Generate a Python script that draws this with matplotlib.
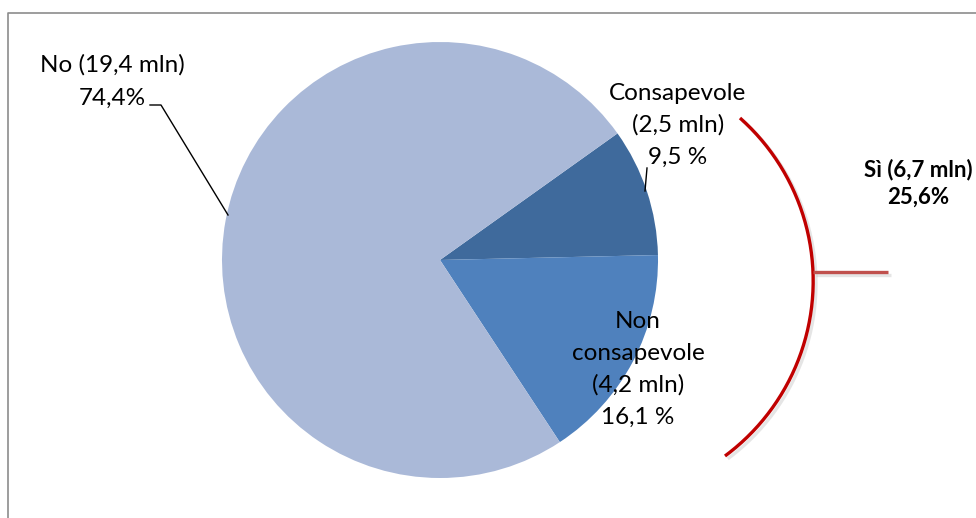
import numpy as np
import matplotlib.pyplot as plt
import matplotlib.patheffects as pe

plt.rcParams['font.family'] = ['Lato', 'DejaVu Sans']

# shares of the population (%), millions of people
categorie = ['Consapevole', 'Non consapevole', 'No']
quote = [9.5, 16.1, 74.4]
milioni = [2.5, 4.2, 19.4]
colori = ['#3F6A9C', '#4F81BD', '#AAB9D8']
si_milioni = 6.7
si_quota = 25.6

W, H = 976, 518
fig = plt.figure(figsize=(W / 100, H / 100), dpi=100)
ax = fig.add_axes([0, 0, 1, 1])

# pixel-style helper: y measured from the top
def py(y):
    return H - y

cx, cy, r = 440, py(260), 218
wedges, _ = ax.pie(quote, colors=colori, startangle=35.5, counterclock=False,
                   center=(cx, cy), radius=r, frame=True)
ax.set_xlim(0, W)
ax.set_ylim(0, H)
ax.set_aspect('equal')
ax.axis('off')

def fmt(v):
    return f'{v:.1f}'.replace('.', ',')

def label(x, y0, lines, step=32, **kw):
    for i, s in enumerate(lines):
        ax.text(x, py(y0 + i * step), s, ha='center', va='center', **kw)

fs = 17.5
label(112, 65, [f'No ({fmt(milioni[2])} mln)', f'{fmt(quote[2])}%'], step=33, fontsize=fs)
ax.plot([150, 161, 228], [py(105), py(105), py(215)], color='black', lw=1)

label(678, 93, ['Consapevole', f'({fmt(milioni[0])} mln)', f'{fmt(quote[0])} %'], fontsize=fs)
ax.plot([647, 645], [py(168), py(191)], color='black', lw=1)

label(638, 321, ['Non', 'consapevole', f'({fmt(milioni[1])} mln)', f'{fmt(quote[1])} %'],
      fontsize=fs)

label(918, 170, [f'Sì ({fmt(si_milioni)} mln)', f'{fmt(si_quota)}%'], step=27,
      fontsize=16, fontweight='bold')

# bracket grouping the two "Sì" slices: circular arc through three points
p1, p2, p3 = np.array([740, py(118)]), np.array([813, py(272)]), np.array([725, py(456)])
A = 2 * np.array([p2 - p1, p3 - p1])
b = np.array([p2 @ p2 - p1 @ p1, p3 @ p3 - p1 @ p1])
c = np.linalg.solve(A, b)
rr = np.linalg.norm(p1 - c)
a1 = np.arctan2(*(p1 - c)[::-1])
a3 = np.arctan2(*(p3 - c)[::-1])
t = np.linspace(a1, a3, 200)
shadow = [pe.SimpleLineShadow(offset=(2, -2), shadow_color='#9A9A9A', alpha=0.25),
          pe.Normal()]
ax.plot(c[0] + rr * np.cos(t), c[1] + rr * np.sin(t), color='#C00000', lw=2.4,
        solid_capstyle='butt', path_effects=shadow)
xr = c[0] + rr * np.cos(np.arctan2(p2[1] - c[1], p2[0] - c[0]))
ax.plot([xr, 888], [p2[1], p2[1]], color='#C0504D', lw=2.4,
        solid_capstyle='butt', path_effects=shadow)

# chart frame
ax.plot([8, 8, W], [0, py(13), py(13)], color='#8C8C8C', lw=1.2)

fig.savefig('out.png', dpi=100)
